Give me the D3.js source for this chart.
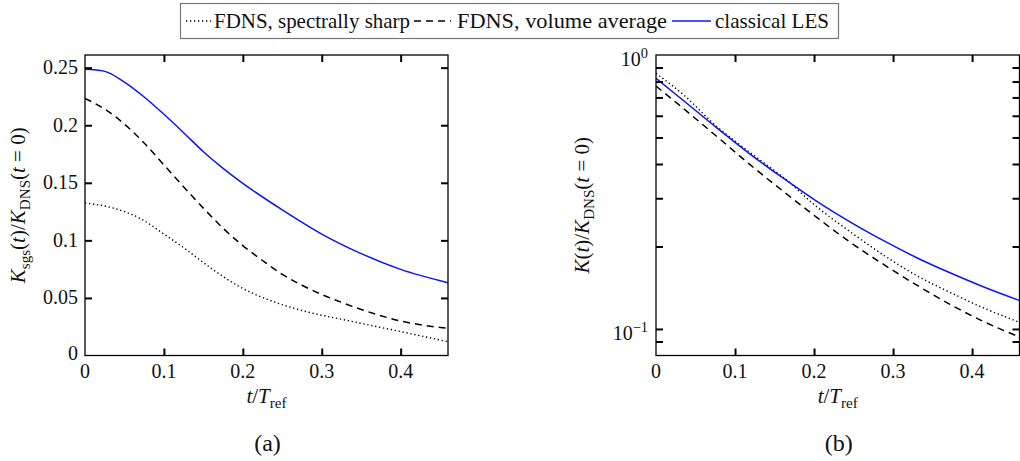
<!DOCTYPE html>
<html><head><meta charset="utf-8">
<script src="https://cdn.jsdelivr.net/npm/d3@7"></script>
<style>body{margin:0;background:#fff}</style>
</head><body><svg id="c" width="1020" height="461"></svg>
<script>
// ---- data (panel a: subgrid kinetic energy) ----
const tA_les   = [0, 0.024, 0.05, 0.075, 0.1, 0.125, 0.15, 0.175, 0.2, 0.25, 0.3, 0.35, 0.4, 0.46];
const kA_les   = [0.2487, 0.247, 0.2375, 0.2245, 0.2095, 0.1935, 0.177, 0.1625, 0.1495, 0.1265, 0.1055, 0.0885, 0.0748, 0.0632];
const tA_vol   = [0, 0.025, 0.05, 0.075, 0.1, 0.125, 0.15, 0.175, 0.2, 0.225, 0.25, 0.275, 0.3, 0.325, 0.35, 0.375, 0.4, 0.43, 0.46];
const kA_vol   = [0.2233, 0.214, 0.201, 0.1845, 0.1655, 0.1465, 0.128, 0.1105, 0.0955, 0.0825, 0.0705, 0.061, 0.053, 0.0462, 0.040, 0.0345, 0.030, 0.0262, 0.0236];
const tA_sharp = [0, 0.036, 0.07, 0.099, 0.129, 0.163, 0.196, 0.239, 0.281, 0.332, 0.395, 0.46];
const kA_sharp = [0.1325, 0.128, 0.119, 0.106, 0.0916, 0.0742, 0.0597, 0.0467, 0.038, 0.0305, 0.0215, 0.012];
// ---- data (panel b: resolved kinetic energy, log axis) ----
const tB_les   = [0, 0.035, 0.077, 0.119, 0.161, 0.203, 0.246, 0.288, 0.33, 0.372, 0.414, 0.46];
const kB_les   = [0.822, 0.681, 0.542, 0.435, 0.355, 0.293, 0.2455, 0.21, 0.182, 0.1603, 0.1426, 0.127];
const tB_sharp = [0, 0.035, 0.077, 0.1, 0.136, 0.161, 0.203, 0.246, 0.288, 0.33, 0.372, 0.414, 0.46];
const kB_sharp = [0.857, 0.715, 0.548, 0.485, 0.405, 0.358, 0.28, 0.226, 0.186, 0.1565, 0.136, 0.1195, 0.1057];
const tB_vol   = [0, 0.035, 0.077, 0.119, 0.161, 0.203, 0.246, 0.288, 0.33, 0.372, 0.414, 0.46];
const kB_vol   = [0.770, 0.637, 0.504, 0.398, 0.318, 0.256, 0.207, 0.172, 0.1445, 0.123, 0.1066, 0.0935];
// ---- ticks / labels ----
const xTicks = [0, 0.1, 0.2, 0.3, 0.4];
const yTicksA = [0, 0.05, 0.1, 0.15, 0.2, 0.25];
const yTicksB = [0.09, 0.1, 0.2, 0.3, 0.4, 0.5, 0.6, 0.7, 0.8, 0.9];
const legendLabels = ["FDNS, spectrally sharp", "FDNS, volume average", "classical LES"];
const panelLabels = ["(a)", "(b)"];

const FONT = '"Liberation Serif"';
const svg = d3.select("#c");
const FS = 20;
const TICK = 7;

function zip(t, k) { return t.map((v, i) => [v, k[i]]); }

function mathText(sel, parts, size) {
  let shift = 0;
  parts.forEach(p => {
    const ts = sel.append("tspan").text(p.t);
    if (p.i) ts.attr("font-style", "italic");
    const target = p.sub ? 5 : 0;
    if (target !== shift) { ts.attr("dy", target - shift); shift = target; }
    if (p.sub) ts.attr("font-size", size * 0.72);
  });
}

const styles = {
  sharp: {color: "#000", dash: "1.3,2.7", w: 1.4},
  vol:   {color: "#000", dash: "7,5", w: 1.5},
  les:   {color: "#0a14ff", dash: null, w: 1.5}
};

function panel(opt) {
  const g = svg.append("g");
  const x = d3.scaleLinear().domain([0, 0.46]).range([opt.x0, opt.x1]);
  const y = opt.y;
  const [yb, yt] = y.range();
  const line = d3.line().x(d => x(d[0])).y(d => y(d[1])).curve(d3.curveMonotoneX);
  const clipId = "clip" + opt.name;
  svg.append("clipPath").attr("id", clipId).append("rect")
    .attr("x", opt.x0).attr("y", yt).attr("width", opt.x1 - opt.x0).attr("height", yb - yt);
  opt.series.forEach(s => {
    const st = styles[s.key];
    g.append("path").datum(zip(s.t, s.k)).attr("d", line)
      .attr("clip-path", `url(#${clipId})`)
      .attr("fill", "none").attr("stroke", st.color).attr("stroke-width", st.w)
      .attr("stroke-dasharray", st.dash);
  });
  const tickStyle = a => { a.select(".domain").remove(); a.selectAll(".tick line").attr("stroke", "#000").attr("stroke-width", 2); a.selectAll(".tick text").remove(); };
  const xt = xTicks.filter(v => v > 0);
  g.append("g").attr("transform", `translate(0,${yb})`)
    .call(d3.axisBottom(x).tickValues(xt).tickSize(-TICK)).call(tickStyle);
  g.append("g").attr("transform", `translate(0,${yt})`)
    .call(d3.axisTop(x).tickValues(xt).tickSize(-TICK)).call(tickStyle);
  g.append("g").attr("transform", `translate(${opt.x0},0)`)
    .call(d3.axisLeft(y).tickValues(opt.yTicks).tickSize(-TICK)).call(tickStyle);
  g.append("g").attr("transform", `translate(${opt.x1},0)`)
    .call(d3.axisRight(y).tickValues(opt.yTicks).tickSize(-TICK)).call(tickStyle);
  g.append("rect").attr("x", opt.x0).attr("y", yt).attr("width", opt.x1 - opt.x0).attr("height", yb - yt)
    .attr("fill", "none").attr("stroke", "#000").attr("stroke-width", 1.3);
  g.selectAll(".xl").data(xTicks).join("text")
    .attr("x", d => x(d)).attr("y", yb + 22).attr("text-anchor", "middle").attr("font-size", FS)
    .text(d => String(d));
  opt.yLabels(g, y);
  const xt2 = g.append("text").attr("x", (opt.x0 + opt.x1) / 2).attr("y", yb + 47)
    .attr("text-anchor", "middle").attr("font-size", FS + 1);
  mathText(xt2, [{t: "t", i: true}, {t: "/"}, {t: "T", i: true}, {t: "ref", sub: true}], FS + 1);
  const yt2 = g.append("text").attr("transform", `translate(${opt.ytx},${(yb + yt) / 2}) rotate(-90)`)
    .attr("text-anchor", "middle").attr("font-size", FS + 1);
  mathText(yt2, opt.ytitle, FS + 1);
  g.append("text").attr("x", (opt.x0 + opt.x1) / 2 + 1).attr("y", 451).attr("text-anchor", "middle")
    .attr("font-size", 24).text(opt.label);
}

const yA = d3.scaleLinear().domain([0, 0.261]).range([355.5, 55]);
panel({
  name: "a", x0: 85, x1: 448, y: yA, yTicks: yTicksA.filter(v => v > 0), label: panelLabels[0], ytx: 25,
  series: [
    {key: "sharp", t: tA_sharp, k: kA_sharp},
    {key: "vol", t: tA_vol, k: kA_vol},
    {key: "les", t: tA_les, k: kA_les}
  ],
  yLabels: (g, y) => {
    g.selectAll(".yl").data(yTicksA).join("text")
      .attr("x", 78).attr("y", d => y(d) + (d === 0 ? 4 : 6.5)).attr("text-anchor", "end").attr("font-size", FS)
      .text(d => String(d));
  },
  ytitle: [{t: "K", i: true}, {t: "sgs", sub: true}, {t: "("}, {t: "t", i: true}, {t: ")/"}, {t: "K", i: true}, {t: "DNS", sub: true}, {t: "("}, {t: "t", i: true}, {t: " = 0)"}]
});

const yB = d3.scaleLog().domain([0.08, 1]).range([355.5, 55]);
panel({
  name: "b", x0: 656, x1: 1019.5, y: yB, yTicks: yTicksB, label: panelLabels[1], ytx: 589,
  series: [
    {key: "sharp", t: tB_sharp, k: kB_sharp},
    {key: "vol", t: tB_vol, k: kB_vol},
    {key: "les", t: tB_les, k: kB_les}
  ],
  yLabels: (g, y) => {
    [[1, "0"], [0.1, "−1"]].forEach(([v, e]) => {
      const t = g.append("text").attr("x", 648).attr("y", y(v) + 11).attr("text-anchor", "end").attr("font-size", FS);
      t.append("tspan").text("10");
      t.append("tspan").attr("dy", -8).attr("font-size", FS * 0.72).text(e);
    });
  },
  ytitle: [{t: "K", i: true}, {t: "("}, {t: "t", i: true}, {t: ")/"}, {t: "K", i: true}, {t: "DNS", sub: true}, {t: "("}, {t: "t", i: true}, {t: " = 0)"}]
});

// legend
const lg = svg.append("g");
lg.append("rect").attr("x", 180.5).attr("y", 3.5).attr("width", 658).attr("height", 35)
  .attr("fill", "#fff").attr("stroke", "#777").attr("stroke-width", 1.2);
const legendItems = [
  {key: "sharp", x1: 186, x2: 211, tx: 214, w: 196},
  {key: "vol", x1: 414, x2: 451, tx: 457, w: 210},
  {key: "les", x1: 672, x2: 711, tx: 715, w: 114}
];
legendItems.forEach((it, i) => {
  const st = styles[it.key];
  lg.append("line").attr("x1", it.x1).attr("x2", it.x2).attr("y1", 21).attr("y2", 21)
    .attr("stroke", st.color).attr("stroke-width", st.w).attr("stroke-dasharray", st.dash);
  lg.append("text").attr("x", it.tx).attr("y", 28).attr("font-size", 22)
    .attr("textLength", it.w).attr("lengthAdjust", "spacingAndGlyphs").text(legendLabels[i]);
});

svg.selectAll("text").style("font-family", FONT).style("fill", "#111");
</script></body></html>
